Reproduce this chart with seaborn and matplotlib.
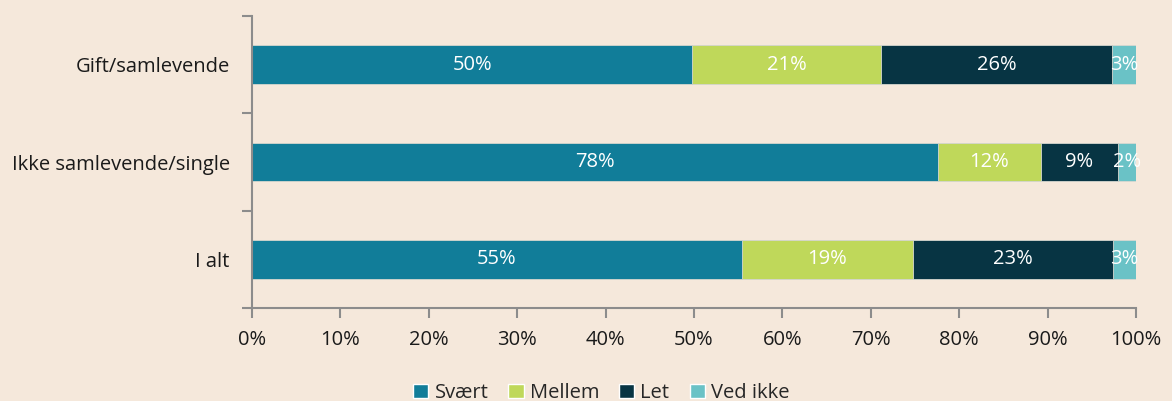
import numpy as np
import pandas as pd
import matplotlib.pyplot as plt
import seaborn as sns
from matplotlib.patches import Patch
from matplotlib.ticker import PercentFormatter

# Data
groups = ["Gift/samlevende", "Ikke samlevende/single", "I alt"]
svaert = [49.8, 77.6, 55.4]
mellem = [21.4, 11.6, 19.4]
let = [26.1, 8.8, 22.6]
ved_ikke = [2.7, 2.0, 2.6]
series_names = ["Svært", "Mellem", "Let", "Ved ikke"]
colors = ["#117d99", "#bfd85a", "#073443", "#6ac2c6"]

bg = "#f5e8db"
fs = 14.5
sns.set_theme(style="ticks")
plt.rcParams["font.family"] = ["Open Sans", "DejaVu Sans"]

df = pd.DataFrame({"group": groups, "Svært": svaert, "Mellem": mellem,
                   "Let": let, "Ved ikke": ved_ikke})
cum = df[series_names].cumsum(axis=1)

fig, ax = plt.subplots(figsize=(11.72, 4.01), dpi=100)
fig.patch.set_facecolor(bg)
ax.set_facecolor(bg)

# stacked bars: draw cumulative totals from the back to the front
for name, col in reversed(list(zip(series_names, colors))):
    sns.barplot(x=cum[name], y=df["group"], color=col, width=0.4,
                orient="h", ax=ax, saturation=1, linewidth=0.6, edgecolor="#d8d8d0")

# labels in each segment
for i in range(len(groups)):
    start = 0
    for name in series_names:
        v = df.loc[i, name]
        ax.text(start + v / 2, i, f"{v:.0f}%", ha="center", va="center",
                color="white", fontsize=fs)
        start += v

ax.set_xlim(0, 100)
ax.set_ylim(2.5, -0.5)
ax.set_xticks(np.arange(0, 101, 10))
ax.xaxis.set_major_formatter(PercentFormatter(decimals=0))
ax.set_xlabel("")
ax.set_ylabel("")

ax.set_yticks(range(len(groups)))
ax.set_yticklabels(groups)
ax.set_yticks([-0.5, 0.5, 1.5, 2.5], minor=True)
ax.tick_params(axis="y", which="major", length=0, pad=16, labelsize=fs, labelcolor="#1a1a1a")
ax.tick_params(axis="y", which="minor", length=7, width=1.5, color="#8c8c8c")
ax.tick_params(axis="x", length=7, width=1.5, color="#8c8c8c", pad=9,
               labelsize=fs, labelcolor="#1a1a1a")

sns.despine(ax=ax)
for s in ["left", "bottom"]:
    ax.spines[s].set_color("#8c8c8c")
    ax.spines[s].set_linewidth(1.5)

handles = [Patch(facecolor=c, label=n) for n, c in zip(series_names, colors)]
fig.legend(handles=handles, loc="lower center", bbox_to_anchor=(0.513, -0.05), ncol=4,
           frameon=False, fontsize=fs, handlelength=0.75, handleheight=0.75,
           handletextpad=0.3, columnspacing=1.0)

fig.subplots_adjust(left=0.215, right=0.9693, top=0.96, bottom=0.232)
fig.savefig("out.png", dpi=100, facecolor=bg)
